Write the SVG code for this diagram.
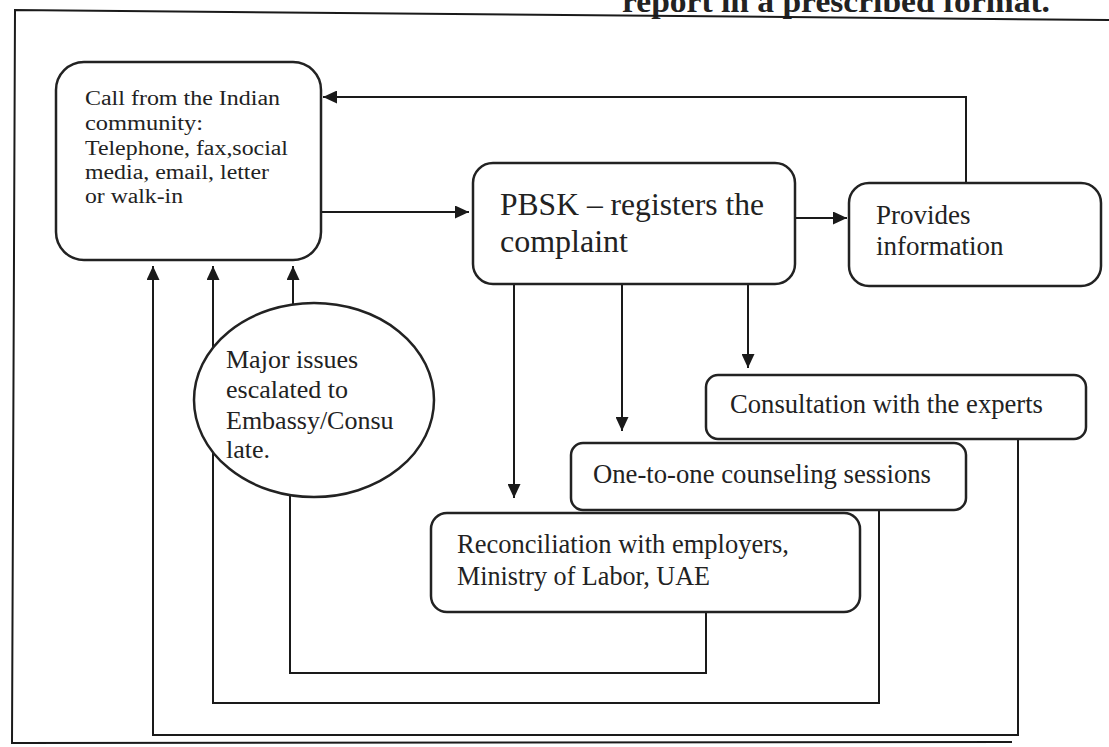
<svg xmlns="http://www.w3.org/2000/svg" width="1109" height="747" viewBox="0 0 1109 747">
<defs>
<marker id="ah" viewBox="0 0 10 10" refX="10" refY="5" markerWidth="14" markerHeight="13" markerUnits="userSpaceOnUse" orient="auto" preserveAspectRatio="none">
<path d="M0,0 L10,5 L0,10 z" fill="#1a1a1a"/>
</marker>
<style>
.box{fill:#fff;stroke:#222;stroke-width:2.5}
.ln{fill:none;stroke:#1a1a1a;stroke-width:2}
.t{font-family:"Liberation Serif","DejaVu Serif",serif;fill:#222}
.s20{font-size:20px}
.s26{font-size:26px}
.s27{font-size:27px}
.s28{font-size:28px}
.s32{font-size:32px}
</style>
</defs>
<rect width="1109" height="747" fill="#fff"/>
<text class="t" x="622" y="12" font-size="32" font-weight="bold" textLength="428" lengthAdjust="spacingAndGlyphs">report in a prescribed format.</text>
<g id="frame">
<path class="ln" d="M1109,20 L15,10 L12,743 L1012,742" stroke-width="2.5"/>
</g>
<g id="connectors">
<path class="ln" d="M321,212 L469,212" marker-end="url(#ah)"/>
<path class="ln" d="M795,218 L847,218" marker-end="url(#ah)"/>
<path class="ln" d="M966,184 L966,97 L323,97" marker-end="url(#ah)"/>
<path class="ln" d="M514,285 L514,498" marker-end="url(#ah)"/>
<path class="ln" d="M622,285 L622,431" marker-end="url(#ah)"/>
<path class="ln" d="M748,285 L748,368" marker-end="url(#ah)"/>
<path class="ln" d="M706,612 L706,673 L290,673 L290,490"/>
<path class="ln" d="M293,310 L293,266" marker-end="url(#ah)"/>
<path class="ln" d="M879,510 L879,703 L213,703 L213,266" marker-end="url(#ah)"/>
<path class="ln" d="M1018,440 L1018,735 L153,735 L153,266" marker-end="url(#ah)"/>
</g>
<g id="call">
<rect class="box" x="56" y="62" width="265" height="198" rx="28"/>
<text class="t s20" x="85" y="105" textLength="195" lengthAdjust="spacingAndGlyphs">Call from the Indian</text>
<text class="t s20" x="85" y="130" textLength="118" lengthAdjust="spacingAndGlyphs">community:</text>
<text class="t s20" x="85" y="155" textLength="203" lengthAdjust="spacingAndGlyphs">Telephone, fax,social</text>
<text class="t s20" x="85" y="179" textLength="184" lengthAdjust="spacingAndGlyphs">media, email, letter</text>
<text class="t s20" x="85" y="203" textLength="98" lengthAdjust="spacingAndGlyphs">or walk-in</text>
</g>
<g id="pbsk">
<rect class="box" x="473" y="163" width="322" height="121" rx="20"/>
<text class="t s32" x="500" y="215" textLength="264" lengthAdjust="spacingAndGlyphs">PBSK – registers the</text>
<text class="t s32" x="500" y="252">complaint</text>
</g>
<g id="provides">
<rect class="box" x="849" y="183" width="252" height="103" rx="20"/>
<text class="t s27" x="876" y="224">Provides</text>
<text class="t s27" x="876" y="255">information</text>
</g>
<g id="consultation">
<rect class="box" x="706" y="375" width="380" height="64" rx="12"/>
<text class="t s28" x="730" y="413" textLength="313" lengthAdjust="spacingAndGlyphs">Consultation with the experts</text>
</g>
<g id="counseling">
<rect class="box" x="571" y="443" width="395" height="67" rx="12"/>
<text class="t s28" x="593" y="483" textLength="338" lengthAdjust="spacingAndGlyphs">One-to-one counseling sessions</text>
</g>
<g id="reconciliation">
<rect class="box" x="431" y="513" width="429" height="99" rx="16"/>
<text class="t s28" x="457" y="553" textLength="332" lengthAdjust="spacingAndGlyphs">Reconciliation with employers,</text>
<text class="t s28" x="457" y="585" textLength="253" lengthAdjust="spacingAndGlyphs">Ministry of Labor, UAE</text>
</g>
<g id="escalation">
<ellipse class="box" cx="314" cy="400" rx="120" ry="97" stroke-width="2"/>
<text class="t s26" x="226" y="368">Major issues</text>
<text class="t s26" x="226" y="398">escalated to</text>
<text class="t s26" x="226" y="429">Embassy/Consu</text>
<text class="t s26" x="226" y="458">late.</text>
</g>
</svg>
